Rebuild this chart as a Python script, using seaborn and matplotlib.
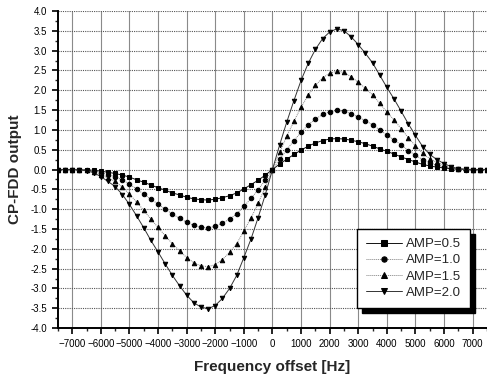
import numpy as np
import pandas as pd
import matplotlib
matplotlib.use("Agg")
import matplotlib.pyplot as plt
import seaborn as sns
from matplotlib.ticker import MultipleLocator

# frequency offset grid [Hz], one marker every 250 Hz
freq = np.arange(-7500, 7501, 250)

# CP-FDD output (-7500 .. 7500 Hz)
amp_05 = [0.00, 0.00, 0.00, 0.00, -0.01, -0.02, -0.04, -0.07, -0.10, -0.14,
          -0.19, -0.26, -0.32, -0.39, -0.46, -0.52, -0.59, -0.64, -0.70, -0.74,
          -0.76, -0.77, -0.75, -0.71, -0.66, -0.59, -0.49, -0.38, -0.27, -0.14,
          0.00, 0.14, 0.26, 0.38, 0.49, 0.59, 0.67, 0.73, 0.77, 0.78,
          0.77, 0.74, 0.70, 0.65, 0.59, 0.52, 0.46, 0.39, 0.32, 0.25,
          0.19, 0.13, 0.09, 0.06, 0.04, 0.02, 0.01, 0.00, 0.00, 0.00,
          0.00]
amp_10 = [0.00, 0.00, 0.00, 0.00, -0.01, -0.03, -0.08, -0.13, -0.18, -0.26,
          -0.37, -0.49, -0.62, -0.75, -0.87, -1.00, -1.12, -1.23, -1.33, -1.41,
          -1.46, -1.47, -1.43, -1.35, -1.25, -1.12, -0.93, -0.73, -0.51, -0.26,
          0.00, 0.26, 0.50, 0.73, 0.94, 1.13, 1.27, 1.39, 1.46, 1.49,
          1.47, 1.41, 1.32, 1.23, 1.13, 1.00, 0.87, 0.75, 0.62, 0.48,
          0.36, 0.25, 0.16, 0.11, 0.07, 0.03, 0.01, 0.00, 0.00, 0.00,
          0.00]
amp_15 = [0.00, 0.00, 0.00, -0.01, -0.02, -0.06, -0.13, -0.21, -0.30, -0.44,
          -0.62, -0.82, -1.03, -1.25, -1.46, -1.67, -1.87, -2.05, -2.22, -2.35,
          -2.43, -2.45, -2.40, -2.27, -2.09, -1.87, -1.55, -1.22, -0.85, -0.44,
          0.00, 0.43, 0.84, 1.22, 1.57, 1.88, 2.12, 2.31, 2.43, 2.48,
          2.45, 2.34, 2.20, 2.05, 1.88, 1.67, 1.45, 1.25, 1.03, 0.80,
          0.60, 0.41, 0.27, 0.18, 0.11, 0.05, 0.02, 0.01, 0.00, 0.00,
          0.00]
amp_20 = [0.00, 0.00, 0.00, -0.01, -0.03, -0.08, -0.18, -0.30, -0.43, -0.63,
          -0.88, -1.17, -1.47, -1.79, -2.08, -2.38, -2.67, -2.93, -3.17, -3.36,
          -3.47, -3.51, -3.43, -3.25, -3.00, -2.67, -2.22, -1.75, -1.21, -0.63,
          0.00, 0.62, 1.20, 1.74, 2.25, 2.68, 3.03, 3.30, 3.47, 3.55,
          3.50, 3.35, 3.15, 2.93, 2.69, 2.38, 2.07, 1.78, 1.47, 1.15,
          0.86, 0.58, 0.38, 0.25, 0.15, 0.07, 0.02, 0.01, 0.00, 0.00,
          0.00]

series_names = ["AMP=0.5", "AMP=1.0", "AMP=1.5", "AMP=2.0"]
series_vals = [amp_05, amp_10, amp_15, amp_20]

sns.set_style("white")
plt.rcParams["font.family"] = ["Liberation Sans", "DejaVu Sans"]

fig = plt.figure(figsize=(4.87, 3.78), dpi=100)
ax = fig.add_axes([0.119, 0.132, 0.881, 0.839])

markers = ["s", "o", "^", "v"]
line_colors = ["#111111", "#808080", "#808080", "#333333"]
line_styles = ["-", (0, (1, 1)), (0, (1, 1)), "-"]

for name, vals, mk, lc, ls in zip(series_names, series_vals, markers, line_colors, line_styles):
    sns.lineplot(x=freq, y=vals, ax=ax, label=name, color=lc, linestyle=ls,
                 linewidth=0.7, marker=mk, markersize=3.2,
                 markerfacecolor="black", markeredgecolor="black", zorder=3)

ax.set_xlim(-7500, 7500)
ax.set_ylim(-4, 4)
ax.xaxis.set_major_locator(MultipleLocator(1000))
ax.xaxis.set_minor_locator(MultipleLocator(500))
ax.yaxis.set_major_locator(MultipleLocator(0.5))
ax.yaxis.set_minor_locator(MultipleLocator(0.25))
ax.set_xticks(np.arange(-7000, 7001, 1000))
ax.yaxis.set_major_formatter(matplotlib.ticker.FormatStrFormatter("%.1f"))

ax.tick_params(axis="both", which="major", direction="out", length=4, width=1.2,
               labelsize=7, pad=4, colors="black")
ax.tick_params(axis="both", which="minor", direction="out", length=2.5, width=1.0)
ax.tick_params(axis="y", which="both", left=True)
ax.tick_params(axis="x", which="both", bottom=True)

# grid: solid vertical lines, dotted horizontal lines
ax.grid(axis="x", which="major", color="#8a8a8a", linewidth=0.8, linestyle="-")
ax.grid(axis="y", which="major", color="#555555", linewidth=0.8, linestyle=(0, (1, 1)))
ax.set_axisbelow(True)

for side in ["top", "right"]:
    ax.spines[side].set_visible(False)
for side in ["left", "bottom"]:
    ax.spines[side].set_color("black")
    ax.spines[side].set_linewidth(1.4)

ax.set_xlabel("Frequency offset [Hz]", fontsize=11, fontweight="bold", labelpad=8)
ax.set_ylabel("CP-FDD output", fontsize=11, fontweight="bold", labelpad=6)

leg = ax.legend(loc="lower right", bbox_to_anchor=(0.96, 0.063), fontsize=9.5,
                frameon=True, fancybox=False,
                shadow={"color": "black", "alpha": 1, "ox": 3.5, "oy": -3.5},
                edgecolor="black", framealpha=1, handlelength=2.7,
                handletextpad=0.3, labelspacing=0.3, borderpad=0.7,
                borderaxespad=0, markerscale=1.2)
leg.get_frame().set_linewidth(1.0)

fig.savefig("out.png", dpi=100)
